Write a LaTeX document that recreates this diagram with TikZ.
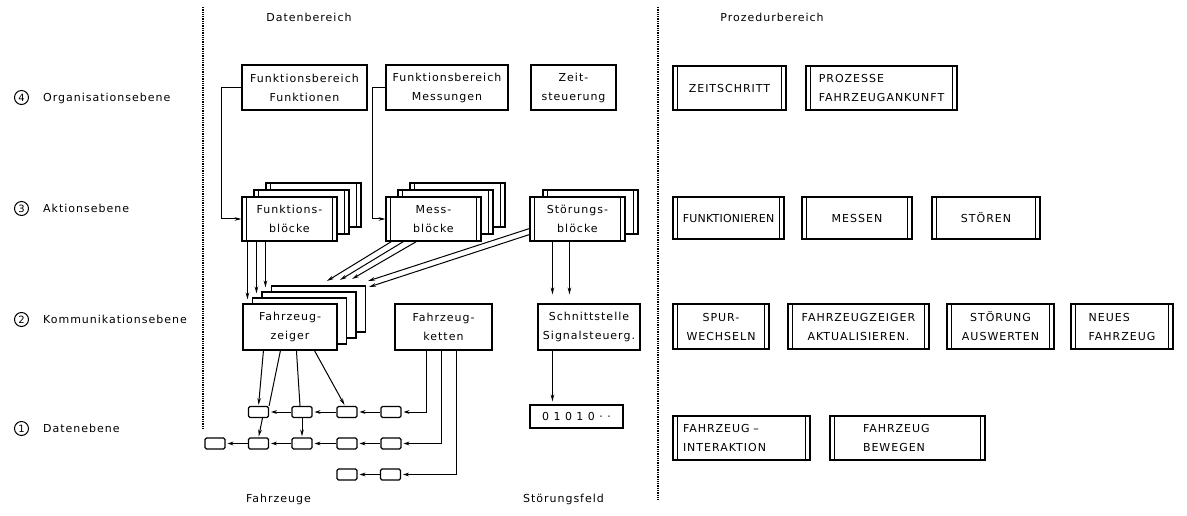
\documentclass[tikz,border=0pt]{standalone}
\usepackage{fontspec}
\setmainfont[LetterSpace=9]{DejaVu Sans}
\newfontfamily\tightfont[LetterSpace=2]{DejaVu Sans}
\usetikzlibrary{arrows.meta,calc}
\tikzset{
  txt/.style={font=\fontsize{11}{19}\selectfont},
  box/.style={draw, line width=1.1pt, fill=white, align=center, inner sep=0pt, txt},
  dbox/.style={box, path picture={
     \draw[line width=1pt] ([xshift=4.5pt]path picture bounding box.north west) -- ([xshift=4.5pt]path picture bounding box.south west);
     \draw[line width=1pt] ([xshift=-4.5pt]path picture bounding box.north east) -- ([xshift=-4.5pt]path picture bounding box.south east);}},
  cell/.style={draw, line width=1.1pt, minimum width=20pt, minimum height=11pt, inner sep=0pt, rounded corners=1.5pt},
  conn/.style={line width=1pt},
  arr/.style={conn, -{Stealth[length=7pt,width=3.6pt]}},
  sarr/.style={conn, -{Stealth[length=6pt,width=3.8pt]}, shorten >=2pt},
  sepline/.style={line width=1.2pt, dash pattern=on 1.3pt off 1pt},
  num/.style={circle, draw, line width=1pt, minimum size=14pt, inner sep=0pt, font=\fontsize{10}{10}\selectfont},
  lab/.style={txt, inner sep=0pt},
}
\begin{document}
\begin{tikzpicture}[x=1pt,y=-1pt]
\useasboundingbox (0,0) rectangle (1187,516);

% level labels
\node[num] (c4) at (21.5,97.5) {4};
\node[lab, anchor=base west] (l4) at (43,101.5) {Organisationsebene};
\node[num] (c3) at (21.5,208.5) {3};
\node[lab, anchor=base west] (l3) at (43,212.5) {Aktionsebene};
\node[num] (c2) at (21.5,319.5) {2};
\node[lab, anchor=base west] (l2) at (43,323) {Kommunikationsebene};
\node[num] (c1) at (21.5,428.5) {1};
\node[lab, anchor=base west] (l1) at (43,432.5) {Datenebene};

% headers and footers
\node[lab, anchor=base] (hd) at (309,22) {Datenbereich};
\node[lab, anchor=base] (hp) at (772,22) {Prozedurbereich};
\node[lab, anchor=base] (fz) at (278.5,502) {Fahrzeuge};
\node[lab, anchor=base] (sf) at (563.5,502) {Störungsfeld};

% separators
\coordinate (s1a) at (203,7); \coordinate (s1b) at (203,429);
\coordinate (s2a) at (658,7); \coordinate (s2b) at (658,500);
\draw[sepline] (s1a) -- (s1b);
\draw[sepline] (s2a) -- (s2b);

% organisation level (data)
\node[box, minimum width=125pt, minimum height=45pt] (fbf) at (304.5,87.5) {Funktionsbereich\\Funktionen};
\node[box, minimum width=122pt, minimum height=45pt] (fbm) at (447,87.5) {Funktionsbereich\\Messungen};
\node[box, minimum width=85pt, minimum height=45pt] (zeit) at (573.5,87.5) {Zeit-\\steuerung};

% action level stacks
\node[dbox, minimum width=95pt, minimum height=44pt] (fb3) at (313.5,205) {};
\node[dbox, minimum width=95pt, minimum height=44pt] (fb2) at (301.5,212) {};
\node[dbox, minimum width=95pt, minimum height=44pt] (fb1) at (289.5,219) {Funktions-\\blöcke};
\node[dbox, minimum width=95pt, minimum height=44pt] (mb3) at (457.5,205) {};
\node[dbox, minimum width=95pt, minimum height=44pt] (mb2) at (445.5,212) {};
\node[dbox, minimum width=95pt, minimum height=44pt] (mb1) at (433.5,219) {Mess-\\blöcke};
\node[dbox, minimum width=95pt, minimum height=44pt] (sb2) at (590.5,212) {};
\node[dbox, minimum width=95pt, minimum height=44pt] (sb1) at (577.5,219) {Störungs-\\blöcke};

% communication level
\node[box, minimum width=94pt, minimum height=46pt] (zf4) at (318.5,309) {};
\node[box, minimum width=94pt, minimum height=46pt] (zf3) at (309,315) {};
\node[box, minimum width=94pt, minimum height=46pt] (zf2) at (299.5,321) {};
\node[box, minimum width=94pt, minimum height=46pt] (zf1) at (290,327) {Fahrzeug-\\zeiger};
\node[box, minimum width=97pt, minimum height=46pt] (kett) at (443.5,327) {Fahrzeug-\\ketten};
\node[box, minimum width=102pt, minimum height=46pt] (schn) at (589,327) {Schnittstelle\\Signalsteuerg.};

% data level
\node[box, minimum width=93pt, minimum height=23pt] (bin) at (576.5,416.5) {0 1 0 1 0 · ·};
\node[cell] (r1a) at (258.5,412) {};
\node[cell] (r1b) at (302,412) {};
\node[cell] (r1c) at (347,412) {};
\node[cell] (r1d) at (391,412) {};
\node[cell] (r2a) at (215,443.5) {};
\node[cell] (r2b) at (258.5,443.5) {};
\node[cell] (r2c) at (302,443.5) {};
\node[cell] (r2d) at (347,443.5) {};
\node[cell] (r2e) at (391,443.5) {};
\node[cell] (r3a) at (347,474.5) {};
\node[cell] (r3b) at (390.5,474.5) {};

% procedure area
\node[dbox, minimum width=113pt, minimum height=44pt] (zs) at (729.5,88) {ZEITSCHRITT};
\node[dbox, minimum width=151pt, minimum height=44pt, align=left] (pf) at (881.5,88) {PROZESSE\\FAHRZEUGANKUNFT};
\node[dbox, minimum width=111pt, minimum height=42pt, font=\tightfont\fontsize{11}{19}\selectfont] (fu) at (728.5,218) {FUNKTIONIEREN};
\node[dbox, minimum width=110pt, minimum height=42pt] (me) at (857,218) {MESSEN};
\node[dbox, minimum width=108pt, minimum height=42pt] (st) at (986,218) {STÖREN};
\node[dbox, minimum width=96pt, minimum height=45pt] (sw) at (721,326.5) {SPUR-\\WECHSELN};
\node[dbox, minimum width=141pt, minimum height=45pt] (fa) at (858.5,326.5) {FAHRZEUGZEIGER\\AKTUALISIEREN.};
\node[dbox, minimum width=107pt, minimum height=45pt] (sa) at (1000.5,326.5) {STÖRUNG\\AUSWERTEN};
\node[dbox, minimum width=102pt, minimum height=45pt, align=left] (nf) at (1122,326.5) {NEUES\\FAHRZEUG};
\node[dbox, minimum width=137pt, minimum height=44pt, align=left, text width=117pt] (fi) at (741.5,438) {FAHRZEUG –\\INTERAKTION};
\node[dbox, minimum width=155pt, minimum height=44pt, align=left, text width=89pt] (fbw) at (907.5,438) {FAHRZEUG\\BEWEGEN};

% connectors organisation -> action
\draw[arr] (fbf.west) -- ++(-20,0) |- (fb1.west);
\draw[arr] (fbm.west) -- ++(-13,0) |- (mb1.west);

% Funktionsbloecke -> Fahrzeugzeiger
\draw[arr, shorten >=4pt] ([xshift=6pt]fb1.south west) -- ([xshift=6pt]fb1.south west |- zf1.north);
\draw[arr, shorten >=4pt] ([xshift=15pt]fb1.south west) -- ([xshift=15pt]fb1.south west |- zf2.north);
\draw[arr, shorten >=4pt] ([xshift=24pt]fb1.south west) -- ([xshift=24pt]fb1.south west |- zf3.north);

% Messbloecke -> Fahrzeugzeiger
\coordinate (m1e) at (327,281);
\coordinate (m2e) at (340,280);
\coordinate (m3e) at (352,279);
\draw[arr] ([xshift=6pt]mb1.south west) -- (m1e);
\draw[arr] ([xshift=18pt]mb1.south west) -- (m2e);
\draw[arr] ([xshift=31pt]mb1.south west) -- (m3e);

% Stoerungsbloecke -> Fahrzeugzeiger
\coordinate (s1e) at (368,281);
\coordinate (s2e) at (369,287);
\draw[arr] ([yshift=13pt]sb1.south west) -- (s1e);
\draw[arr] ([yshift=7pt]sb1.south west) -- (s2e);

% Stoerungsbloecke -> Schnittstelle
\draw[arr, shorten >=9pt] ([xshift=23pt]sb1.south west) -- ([xshift=23pt]sb1.south west |- schn.north);
\draw[arr, shorten >=9pt] ([xshift=40pt]sb1.south west) -- ([xshift=40pt]sb1.south west |- schn.north);

% Schnittstelle -> bit field
\draw[arr, shorten >=3pt] ([xshift=15pt]schn.south west) -- ([xshift=15pt]schn.south west |- bin.north);

% Fahrzeugzeiger -> vehicles
\draw[arr, shorten >=1pt] ([xshift=21pt]zf1.south west) -- (r1a.north);
\draw[conn] ([xshift=38pt]zf1.south west) -- (r1a.north east);
\draw[conn] ([xshift=54pt]zf1.south west) -- ([xshift=-2pt]r1b.north);
\draw[arr, shorten >=1pt] ([xshift=72pt]zf1.south west) -- ([xshift=-2pt]r1c.north);
\draw[arr, shorten >=1pt] ([xshift=4pt]r1a.south) -- (r2b.north);
\draw[arr, shorten >=1pt] (r1b.south) -- (r2c.north);

% vehicle chains
\draw[sarr] (r1d.west) -- (r1c.east);
\draw[sarr] (r1c.west) -- (r1b.east);
\draw[sarr] (r1b.west) -- (r1a.east);
\draw[sarr] (r2e.west) -- (r2d.east);
\draw[sarr] (r2d.west) -- (r2c.east);
\draw[sarr] (r2c.west) -- (r2b.east);
\draw[sarr] (r2b.west) -- (r2a.east);
\draw[sarr] (r3b.west) -- (r3a.east);

% Fahrzeugketten -> chains
\draw[sarr] ([xshift=32pt]kett.south west) |- (r1d.east);
\draw[sarr] ([xshift=47pt]kett.south west) |- (r2e.east);
\draw[sarr] ([xshift=62pt]kett.south west) |- (r3b.east);
\end{tikzpicture}
\end{document}
